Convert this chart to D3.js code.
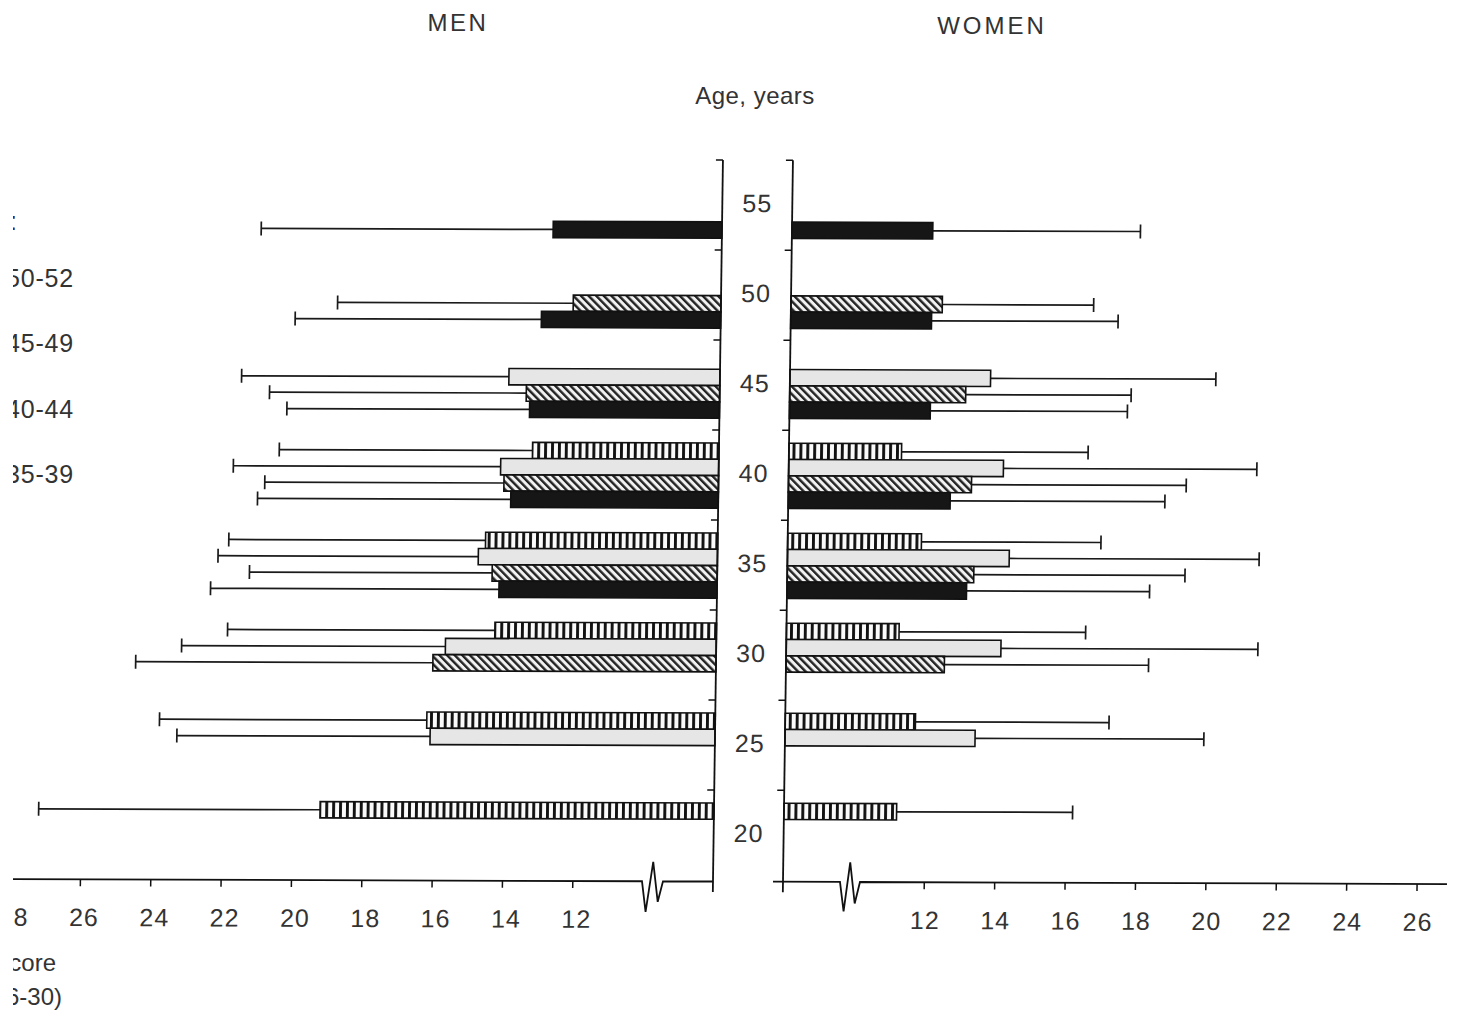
<!DOCTYPE html>
<html><head><meta charset="utf-8">
<script src="https://cdn.jsdelivr.net/npm/d3@7"></script>
<style>
html,body{margin:0;padding:0;background:#fff;}
svg{display:block;}
text{font-family:"Liberation Sans",Arial,Helvetica,sans-serif;fill:#333;}
</style></head>
<body>
<svg id="chart" width="1457" height="1012"></svg>
<script>
// ---------- DATA ----------
const ages = [20, 25, 30, 35, 40, 45, 50, 55];
const cohorts = ["50-52", "45-49", "40-44", "35-39"];
const xTicksMen = [12, 14, 16, 18, 20, 22, 24, 26, 28];
const xTicksWomen = [12, 14, 16, 18, 20, 22, 24, 26];

// Men: mean score and upper end of the SD bar, by age (20..55)
const men5052Mean  = [19.2, 16.2, 14.3, 14.6, 13.3, null, null, null];
const men5052Upper = [27.2, 23.8, 21.9, 21.9, 20.5, null, null, null];
const men4549Mean  = [null, 16.1, 15.7, 14.8, 14.2, 14.0, null, null];
const men4549Upper = [null, 23.3, 23.2, 22.2, 21.8, 21.6, null, null];
const men4044Mean  = [null, null, 16.05, 14.4, 14.1, 13.5, 12.2, null];
const men4044Upper = [null, null, 24.5, 21.3, 20.9, 20.8, 18.9, null];
const men3539Mean  = [null, null, null, 14.2, 13.9, 13.4, 13.1, 12.8];
const men3539Upper = [null, null, null, 22.4, 21.1, 20.3, 20.1, 21.1];

// Women
const wom5052Mean  = [11.2, 11.7, 11.2, 11.8, 11.2, null, null, null];
const wom5052Upper = [16.2, 17.2, 16.5, 16.9, 16.5, null, null, null];
const wom4549Mean  = [null, 13.4, 14.1, 14.3, 14.1, 13.7, null, null];
const wom4549Upper = [null, 19.9, 21.4, 21.4, 21.3, 20.1, null, null];
const wom4044Mean  = [null, null, 12.5, 13.3, 13.2, 13.0, 12.3, null];
const wom4044Upper = [null, null, 18.3, 19.3, 19.3, 17.7, 16.6, null];
const wom3539Mean  = [null, null, null, 13.1, 12.6, 12.0, 12.0, 12.0];
const wom3539Upper = [null, null, null, 18.3, 18.7, 17.6, 17.3, 17.9];

const menMeans = [men5052Mean, men4549Mean, men4044Mean, men3539Mean];
const menUppers = [men5052Upper, men4549Upper, men4044Upper, men3539Upper];
const womMeans = [wom5052Mean, wom4549Mean, wom4044Mean, wom3539Mean];
const womUppers = [wom5052Upper, wom4549Upper, wom4044Upper, wom3539Upper];

function rows(means, uppers) {
  const out = [];
  cohorts.forEach((c, ci) => ages.forEach((a, ai) => {
    if (means[ci][ai] != null) out.push({cohort: c, age: a, mean: means[ci][ai], upper: uppers[ci][ai]});
  }));
  return out;
}
const menRows = rows(menMeans, menUppers);
const womRows = rows(womMeans, womUppers);

// ---------- LAYOUT ----------
const svg = d3.select("#chart");
const defs = svg.append("defs");
defs.append("clipPath").attr("id", "crop").append("rect")
  .attr("x", 13).attr("y", 0).attr("width", 1444).attr("height", 1012);

// patterns
const pStripe = defs.append("pattern").attr("id", "pStripe")
  .attr("patternUnits", "userSpaceOnUse").attr("width", 6.9).attr("height", 10);
pStripe.append("rect").attr("width", 6.9).attr("height", 10).attr("fill", "#fafafa");
pStripe.append("rect").attr("x", 0).attr("width", 2.9).attr("height", 10).attr("fill", "#111");

const pDiag = defs.append("pattern").attr("id", "pDiag")
  .attr("patternUnits", "userSpaceOnUse").attr("width", 5.4).attr("height", 10)
  .attr("patternTransform", "rotate(-45)");
pDiag.append("rect").attr("width", 5.4).attr("height", 10).attr("fill", "#f2f2f2");
pDiag.append("rect").attr("width", 2.4).attr("height", 10).attr("fill", "#222");

const fills = {"50-52": "url(#pStripe)", "45-49": "#e6e6e6", "40-44": "url(#pDiag)", "35-39": "#161616"};

const root = svg.append("g").attr("clip-path", "url(#crop)");

// slight skew of the scanned figure
const a = -0.0138, b = 0.0035;
const plot = root.append("g")
  .attr("transform", `matrix(1,${b},${a},1,${-a * 880},${-b * 713})`);

const axL = 713, axR = 783, yBase = 881.5;
const xL = d3.scaleLinear().domain([8, 28]).range([axL, axL - 20 * 35.17]);
const xR = d3.scaleLinear().domain([8, 28]).range([axR, axR + 20 * 35.2]);
const yAge = d3.scaleBand().domain(ages.slice().reverse()).range([160, 880]);
const ySlot = d3.scaleBand().domain(cohorts).range([13, 78.2]);

function drawSide(data, x, base) {
  const g = plot.append("g");
  const gr = g.selectAll("g.bar").data(data).join("g").attr("class", "bar");
  const cy = d => yAge(d.age) + ySlot(d.cohort) + ySlot.bandwidth() / 2;
  // whisker
  gr.append("line")
    .attr("x1", d => x(d.mean)).attr("x2", d => x(d.upper))
    .attr("y1", cy).attr("y2", cy)
    .attr("stroke", "#1a1a1a").attr("stroke-width", 1.7);
  gr.append("line")
    .attr("x1", d => x(d.upper)).attr("x2", d => x(d.upper))
    .attr("y1", d => cy(d) - 7).attr("y2", d => cy(d) + 7)
    .attr("stroke", "#1a1a1a").attr("stroke-width", 1.7);
  // bar
  gr.append("rect")
    .attr("x", d => Math.min(x(d.mean), base))
    .attr("width", d => Math.abs(x(d.mean) - base))
    .attr("y", d => yAge(d.age) + ySlot(d.cohort))
    .attr("height", ySlot.bandwidth())
    .attr("fill", d => fills[d.cohort])
    .attr("stroke", "#111").attr("stroke-width", 1.6);
}
drawSide(menRows, xL, axL);
drawSide(womRows, xR, axR);

// vertical axes with ticks to the left
[axL, axR].forEach(ax => {
  plot.append("line").attr("x1", ax).attr("x2", ax).attr("y1", 160).attr("y2", 892)
    .attr("stroke", "#111").attr("stroke-width", 1.8);
  plot.selectAll(null).data(ages).join("line")
    .attr("x1", ax - 7).attr("x2", ax)
    .attr("y1", d => yAge(d)).attr("y2", d => yAge(d))
    .attr("stroke", "#111").attr("stroke-width", 1.6);
});

// age labels
plot.selectAll("text.age").data(ages).join("text").attr("class", "age")
  .attr("x", (axL + axR) / 2)
  .attr("y", d => yAge(d) + yAge.bandwidth() / 2 + 7)
  .attr("text-anchor", "middle").attr("font-size", 25).attr("letter-spacing", 1)
  .text(d => d);

// horizontal axes with break marks
plot.append("path")
  .attr("d", `M0,${yBase} L642,${yBase} L646,912 L653,862 L658,902 L663,${yBase} L${axL},${yBase}`)
  .attr("fill", "none").attr("stroke", "#111").attr("stroke-width", 1.8);
plot.append("path")
  .attr("d", `M773,${yBase} L840,${yBase} L844,911 L850,862 L855,903 L860,${yBase} L1447,${yBase}`)
  .attr("fill", "none").attr("stroke", "#111").attr("stroke-width", 1.8);

const axisMen = d3.axisBottom(xL).tickValues(xTicksMen).tickSize(7).tickPadding(22);
const axisWom = d3.axisBottom(xR).tickValues(xTicksWomen).tickSize(7).tickPadding(22);
const gxL = plot.append("g").attr("transform", `translate(0,${yBase})`).call(axisMen);
const gxR = plot.append("g").attr("transform", `translate(0,${yBase})`).call(axisWom);
[gxL, gxR].forEach(g => {
  g.select(".domain").remove();
  g.selectAll(".tick line").attr("stroke", "#111").attr("stroke-width", 1.5);
  g.selectAll(".tick text").attr("font-size", 25).attr("fill", "#333").attr("letter-spacing", 1)
    .attr("font-family", '"Liberation Sans",Arial,sans-serif');
});
gxL.selectAll(".tick text").attr("dx", 4);
gxR.selectAll(".tick text").attr("dx", 1);

// titles
root.append("text").attr("x", 458).attr("y", 31).attr("text-anchor", "middle")
  .attr("font-size", 24).attr("letter-spacing", 2.5).text("MEN");
root.append("text").attr("x", 992).attr("y", 34).attr("text-anchor", "middle")
  .attr("font-size", 24).attr("letter-spacing", 3).text("WOMEN");
root.append("text").attr("x", 755).attr("y", 104).attr("text-anchor", "middle")
  .attr("font-size", 24).attr("letter-spacing", 0.5).text("Age, years");

// legend (mostly cropped at the left edge, as in the scan)
const legY = d3.scalePoint().domain(cohorts).range([287, 483]);
root.append("text").attr("x", 17).attr("y", 230).attr("text-anchor", "end")
  .attr("font-size", 25).text("Birth cohort:");
const lg = root.selectAll("g.leg").data(cohorts).join("g").attr("class", "leg");
lg.append("rect").attr("x", -60).attr("y", d => legY(d) - 17).attr("width", 40).attr("height", 16)
  .attr("fill", d => fills[d]).attr("stroke", "#111");
lg.append("text").attr("x", 74).attr("y", d => legY(d)).attr("text-anchor", "end")
  .attr("font-size", 25).attr("letter-spacing", 0.8).text(d => d);

// x-axis title (cropped)
root.append("text").attr("x", 56).attr("y", 971).attr("text-anchor", "end")
  .attr("font-size", 24).text("Score");
root.append("text").attr("x", 62).attr("y", 1005).attr("text-anchor", "end")
  .attr("font-size", 24).text("(6-30)");
</script>
</body></html>
